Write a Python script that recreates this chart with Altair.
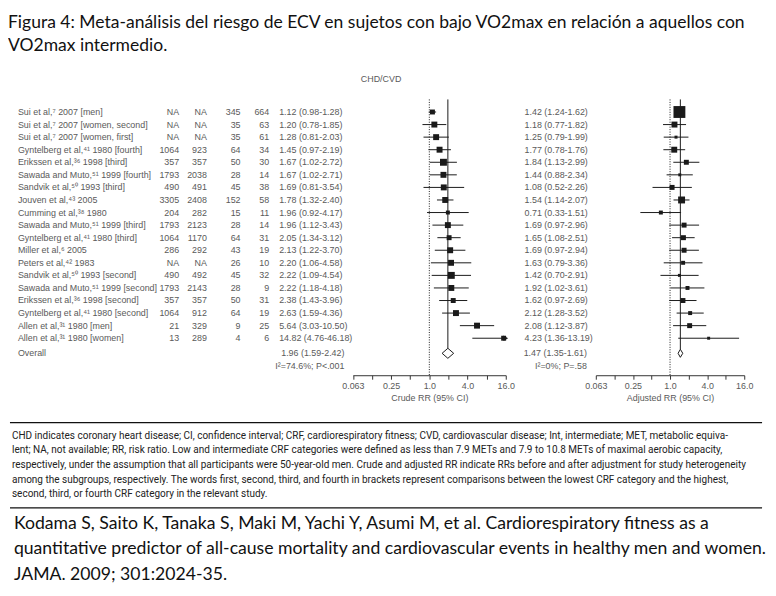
import altair as alt
import pandas as pd

# ---------------- data ----------------
studies = [
    "Sui et al,\u2077 2007 [men]",
    "Sui et al,\u2077 2007 [women, second]",
    "Sui et al,\u2077 2007 [women, first]",
    "Gyntelberg et al,\u2074\u00b9 1980 [fourth]",
    "Erikssen et al,\u00b3\u2076 1998 [third]",
    "Sawada and Muto,\u2075\u00b9 1999 [fourth]",
    "Sandvik et al,\u2075\u2070 1993 [third]",
    "Jouven et al,\u2074\u00b3 2005",
    "Cumming et al,\u00b3\u2078 1980",
    "Sawada and Muto,\u2075\u00b9 1999 [third]",
    "Gyntelberg et al,\u2074\u00b9 1980 [third]",
    "Miller et al,\u2076 2005",
    "Peters et al,\u2074\u00b2 1983",
    "Sandvik et al,\u2075\u2070 1993 [second]",
    "Sawada and Muto,\u2075\u00b9 1999 [second]",
    "Erikssen et al,\u00b3\u2076 1998 [second]",
    "Gyntelberg et al,\u2074\u00b9 1980 [second]",
    "Allen et al,\u00b3\u00b9 1980 [men]",
    "Allen et al,\u00b3\u00b9 1980 [women]",
]
n_low = ["NA", "NA", "NA", "1064", "357", "1793", "490", "3305", "204", "1793",
         "1064", "286", "NA", "490", "1793", "357", "1064", "21", "13"]
n_int = ["NA", "NA", "NA", "923", "357", "2038", "491", "2408", "282", "2123",
         "1170", "292", "NA", "492", "2143", "357", "912", "329", "289"]
ev_low = ["345", "35", "35", "64", "50", "28", "45", "152", "15", "28",
          "64", "43", "26", "45", "28", "50", "64", "9", "4"]
ev_int = ["664", "63", "61", "34", "30", "14", "38", "58", "11", "14",
          "31", "19", "10", "32", "9", "31", "19", "25", "6"]

crude_rr = [1.12, 1.20, 1.28, 1.45, 1.67, 1.67, 1.69, 1.78, 1.96, 1.96,
            2.05, 2.13, 2.20, 2.22, 2.22, 2.38, 2.63, 5.64, 14.82]
crude_lo = [0.98, 0.78, 0.81, 0.97, 1.02, 1.02, 0.81, 1.32, 0.92, 1.12,
            1.34, 1.22, 1.06, 1.09, 1.18, 1.43, 1.59, 3.03, 4.76]
crude_hi = [1.28, 1.85, 2.03, 2.19, 2.72, 2.71, 3.54, 2.40, 4.17, 3.43,
            3.12, 3.70, 4.58, 4.54, 4.18, 3.96, 4.36, 10.50, 46.18]
crude_txt = ["1.12 (0.98-1.28)", "1.20 (0.78-1.85)", "1.28 (0.81-2.03)", "1.45 (0.97-2.19)",
             "1.67 (1.02-2.72)", "1.67 (1.02-2.71)", "1.69 (0.81-3.54)", "1.78 (1.32-2.40)",
             "1.96 (0.92-4.17)", "1.96 (1.12-3.43)", "2.05 (1.34-3.12)", "2.13 (1.22-3.70)",
             "2.20 (1.06-4.58)", "2.22 (1.09-4.54)", "2.22 (1.18-4.18)", "2.38 (1.43-3.96)",
             "2.63 (1.59-4.36)", "5.64 (3.03-10.50)", "14.82 (4.76-46.18)"]
crude_weight = [5, 6, 6, 6, 7, 6, 6, 6, 4, 6, 5, 6, 6, 7, 6, 5, 6, 6, 5]

adj_rr = [1.42, 1.18, 1.25, 1.17, 1.84, 1.44, 1.08, 1.54, 0.71, 1.69,
          1.65, 1.69, 1.63, 1.42, 1.92, 1.62, 2.12, 2.08, 4.23]
adj_lo = [1.24, 0.77, 0.79, 0.78, 1.13, 0.88, 0.52, 1.14, 0.33, 0.97,
          1.08, 0.97, 0.79, 0.70, 1.02, 0.97, 1.28, 1.12, 1.36]
adj_hi = [1.62, 1.82, 1.99, 1.76, 2.99, 2.34, 2.26, 2.07, 1.51, 2.96,
          2.51, 2.94, 3.36, 2.91, 3.61, 2.69, 3.52, 3.87, 13.19]
adj_txt = ["1.42 (1.24-1.62)", "1.18 (0.77-1.82)", "1.25 (0.79-1.99)", "1.77 (0.78-1.76)",
           "1.84 (1.13-2.99)", "1.44 (0.88-2.34)", "1.08 (0.52-2.26)", "1.54 (1.14-2.07)",
           "0.71 (0.33-1.51)", "1.69 (0.97-2.96)", "1.65 (1.08-2.51)", "1.69 (0.97-2.94)",
           "1.63 (0.79-3.36)", "1.42 (0.70-2.91)", "1.92 (1.02-3.61)", "1.62 (0.97-2.69)",
           "2.12 (1.28-3.52)", "2.08 (1.12-3.87)", "4.23 (1.36-13.19)"]
adj_weight = [12, 6, 3, 6, 5, 3, 5, 7, 4, 5, 5, 5, 4, 3, 4, 5, 4, 5, 3]

pooled_crude = [1.96, 1.59, 2.42]
pooled_adj = [1.47, 1.35, 1.61]
pooled_crude_txt = "1.96 (1.59-2.42)"
pooled_adj_txt = "1.47 (1.35-1.61)"
het_crude = "I\u00b2=74.6%; P<.001"
het_adj = "I\u00b2=0%; P=.58"

tick_values = [0.0625, 0.125, 0.25, 0.5, 1, 2, 4, 8, 16]

title_lines = [
    "Figura 4: Meta-an\u00e1lisis del riesgo de ECV en sujetos con bajo VO2max en relaci\u00f3n a aquellos con",
    "VO2max intermedio.",
]
note_lines = [
    "CHD indicates coronary heart disease; CI, confidence interval; CRF, cardiorespiratory fitness; CVD, cardiovascular disease; Int, intermediate; MET, metabolic equiva-",
    "lent; NA, not available; RR, risk ratio. Low and intermediate CRF categories were defined as less than 7.9 METs and 7.9 to 10.8 METs of maximal aerobic capacity,",
    "respectively, under the assumption that all participants were 50-year-old men. Crude and adjusted RR indicate RRs before and after adjustment for study heterogeneity",
    "among the subgroups, respectively. The words first, second, third, and fourth in brackets represent comparisons between the lowest CRF category and the highest,",
    "second, third, or fourth CRF category in the relevant study.",
]
cite_lines = [
    "Kodama S, Saito K, Tanaka S, Maki M, Yachi Y, Asumi M, et al. Cardiorespiratory fitness as a",
    "quantitative predictor of all-cause mortality and cardiovascular events in healthy men and women.",
    "JAMA. 2009; 301:2024-35.",
]

# ---------------- styling ----------------
FONT = "Liberation Sans"
HAND = "Lato"
NOTE = "Roboto"
GRAY = "#5a5a5a"
INK = "#1a1a1a"
FS = 9

rows = list(range(1, 20))
df = pd.DataFrame({
    "row": rows, "study": studies, "n_low": n_low, "n_int": n_int,
    "ev_low": ev_low, "ev_int": ev_int,
    "crr": crude_rr, "clo": crude_lo, "chi": crude_hi, "ctxt": crude_txt,
    "csz": [w * w for w in crude_weight],
    "arr": adj_rr, "alo": adj_lo, "ahi": adj_hi, "atxt": adj_txt,
    "asz": [w * w for w in adj_weight],
})
OVR = 20.2
HET = 21.25

yscale = alt.Scale(domain=[1, 19], range=[102, 330.6], nice=False, zero=False)


def Y(field):
    return alt.Y(field, type="quantitative", scale=yscale, axis=None)


def col_text(field, x, align):
    return alt.Chart(df).mark_text(
        align=align, baseline="middle", font=FONT, fontSize=FS, color=GRAY
    ).encode(x=alt.value(x), y=Y("row"), text=alt.Text(field + ":N"))


label_expr = ("datum.value == 0.0625 ? '0.063' : datum.value == 0.25 ? '0.25' : "
              "datum.value == 1 ? '1.0' : datum.value == 4 ? '4.0' : "
              "datum.value == 16 ? '16.0' : ''")


def rr_axis(title):
    return alt.Axis(orient="bottom", offset=-220, values=tick_values, labelExpr=label_expr,
                    title=title, tickSize=4, tickColor="#333", domainColor="#333",
                    labelColor=GRAY, labelFont=FONT, labelFontSize=FS, titleFont=FONT,
                    titleFontSize=FS, titleFontWeight="normal", titleColor=GRAY,
                    labelPadding=2, titlePadding=4, grid=False, labelFlush=False,
                    labelOverlap=False)


def forest(rr, lo, hi, sz, pooled, xrange, title, dia_half):
    sc = alt.Scale(type="log", base=2, domain=[0.0625, 16], range=xrange, nice=False, clamp=True)
    ax = rr_axis(title)

    def X(f):
        return alt.X(f, type="quantitative", scale=sc, axis=ax)

    base = alt.Chart(df)
    null_line = alt.Chart(pd.DataFrame({"v": [1.0], "r": [0.0]})).mark_rule(
        color=INK, strokeWidth=1, strokeDash=[1, 1.5]
    ).encode(x=X("v"), y=Y("r"), y2=alt.value(368))
    pool_line = alt.Chart(pd.DataFrame({"v": [pooled[0]], "r": [0.0], "r2": [OVR - dia_half]})).mark_rule(
        color=INK, strokeWidth=1
    ).encode(x=X("v"), y=Y("r"), y2="r2:Q")
    ci = base.mark_rule(color=INK, strokeWidth=1).encode(x=X(lo), x2=hi + ":Q", y=Y("row"))
    sq = base.mark_square(color=INK, opacity=1).encode(
        x=X(rr), y=Y("row"), size=alt.Size(sz + ":Q", scale=None, legend=None))
    arrow = base.transform_filter(f"datum.{hi} > 16").mark_point(
        shape="triangle-right", filled=True, color=INK, opacity=1, size=30
    ).encode(x=X(hi), y=Y("row"))
    dia = pd.DataFrame({
        "v": [pooled[1], pooled[0], pooled[2], pooled[0]],
        "r": [OVR, OVR - dia_half, OVR, OVR + dia_half],
        "o": [0, 1, 2, 3],
    })
    diamond = alt.Chart(dia).mark_line(
        color=INK, strokeWidth=1, interpolate="linear-closed"
    ).encode(x=X("v"), y=Y("r"), order="o:Q")
    return alt.layer(null_line, pool_line, ci, sq, arrow, diamond)


crude = forest("crr", "clo", "chi", "csz", pooled_crude, [348.5, 503], "Crude RR (95% CI)", 0.4)
adjusted = forest("arr", "alo", "ahi", "asz", pooled_adj, [594, 744], "Adjusted RR (95% CI)", 0.32)

one = alt.Data(values=[{"a": 1}])


def free_text(txt, x, y, font, size, color, align="left", baseline="middle", weight="normal"):
    return alt.Chart(one).mark_text(
        text=txt, align=align, baseline=baseline, font=font, fontSize=size,
        color=color, fontWeight=weight
    ).encode(x=alt.value(x), y=alt.value(y))


layers = []
for i, t in enumerate(title_lines):
    layers.append(free_text(t, 0, 12 + 23 * i, HAND, 17.7, "#111"))
layers.append(free_text("CHD/CVD", 377, 69, FONT, FS, GRAY, align="center"))

layers += [
    col_text("study", 10, "left"),
    col_text("n_low", 173, "right"),
    col_text("n_int", 201, "right"),
    col_text("ev_low", 235, "right"),
    col_text("ev_int", 264, "right"),
    col_text("ctxt", 274, "left"),
    col_text("atxt", 522, "left"),
]

ovr_df = pd.DataFrame({"r": [OVR, HET], "lab": ["Overall", ""],
                       "c": [pooled_crude_txt, het_crude], "a": [pooled_adj_txt, het_adj]})
for field, x, align in [("lab", 10, "left"), ("c", 340, "right"), ("a", 585, "right")]:
    layers.append(alt.Chart(ovr_df).mark_text(
        align=align, baseline="middle", font=FONT, fontSize=FS, color=GRAY
    ).encode(x=alt.value(x), y=Y("r"), text=alt.Text(field + ":N")))

# footnote rules and text
for yy in [416, 502]:
    layers.append(alt.Chart(one).mark_rule(color="#111", strokeWidth=1.3).encode(
        x=alt.value(2), x2=alt.value(762), y=alt.value(yy)))
for i, t in enumerate(note_lines):
    layers.append(free_text(t, 4, 429 + 14.8 * i, NOTE, 10.1, "#222"))
for i, t in enumerate(cite_lines):
    layers.append(free_text(t, 6, 518 + 26 * i, HAND, 17.8, "#111"))

layers += [crude, adjusted]

chart = alt.layer(*layers).resolve_scale(x="independent").properties(
    width=768, height=588, padding=0, autosize="none", background="white"
).configure_view(stroke=None)

chart.save("out.html", embed_options={"renderer": "svg", "actions": False})
